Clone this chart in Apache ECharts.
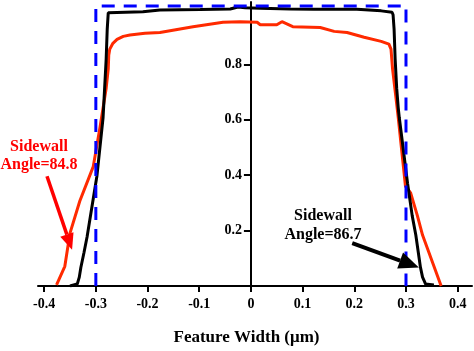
<!DOCTYPE html>
<html>
<head>
<meta charset="utf-8">
<script src="https://cdn.jsdelivr.net/npm/echarts@6/dist/echarts.min.js"></script>
<style>
html,body{margin:0;padding:0;background:#fff;}
#chart{width:474px;height:351px;}
</style>
</head>
<body>
<div id="chart"></div>
<script>
// ---- tick labels ----
const xTicks = [-0.4, -0.3, -0.2, -0.1, 0, 0.1, 0.2, 0.3, 0.4];
const yTicks = [0.2, 0.4, 0.6, 0.8];
const xAxisTitle = 'Feature Width (μm)';

// ---- designed (ideal) profile: black ----
const idealX = [-0.350, -0.336, -0.332, -0.329, -0.323, -0.317, -0.298, -0.286, -0.284, -0.280, -0.278, -0.276, -0.273, -0.209, -0.207, -0.176, -0.098, -0.040, -0.025, -0.011, 0.018, 0.076, 0.122, 0.205, 0.207, 0.252, 0.254, 0.273, 0.275, 0.277, 0.279, 0.282, 0.285, 0.287, 0.303, 0.312, 0.319, 0.328, 0.332, 0.338, 0.354];
const idealY = [0.000, 0.007, 0.032, 0.067, 0.120, 0.177, 0.396, 0.608, 0.678, 0.820, 0.926, 0.986, 0.990, 0.990, 0.996, 0.996, 0.998, 1.000, 1.007, 1.004, 1.002, 1.000, 0.999, 0.999, 0.993, 0.993, 0.989, 0.988, 0.979, 0.926, 0.820, 0.714, 0.643, 0.608, 0.371, 0.254, 0.184, 0.067, 0.032, 0.007, 0.004];

// ---- measured profile: red ----
const measX = [-0.376, -0.360, -0.350, -0.331, -0.305, -0.292, -0.280, -0.276, -0.275, -0.273, -0.267, -0.259, -0.247, -0.234, -0.205, -0.176, -0.112, -0.054, -0.021, 0.012, 0.018, 0.050, 0.060, 0.081, 0.134, 0.161, 0.186, 0.219, 0.252, 0.267, 0.271, 0.274, 0.280, 0.285, 0.295, 0.299, 0.309, 0.322, 0.332, 0.368];
const measY = [0.004, 0.071, 0.191, 0.307, 0.431, 0.572, 0.714, 0.784, 0.834, 0.855, 0.876, 0.890, 0.901, 0.906, 0.912, 0.915, 0.936, 0.952, 0.954, 0.952, 0.943, 0.943, 0.954, 0.936, 0.933, 0.919, 0.915, 0.898, 0.883, 0.873, 0.855, 0.784, 0.689, 0.608, 0.431, 0.360, 0.336, 0.254, 0.184, 0.000];

// ---- mask outline: blue dashed ----
const maskX = [-0.3, -0.3, 0.3, 0.3];
const maskY = [0, 1.011, 1.011, 0];

// ---- annotation arrows (data coordinates: from -> tip) ----
const redArrow = [[-0.3945, 0.396], [-0.346, 0.131]];
const blackArrow = [[0.196, 0.155], [0.325, 0.067]];

const pairs = (xs, ys) => xs.map((x, i) => [x, ys[i]]);
const FONT = '"Liberation Serif", "Times New Roman", serif';

const chart = echarts.init(document.getElementById('chart'), null, {renderer: 'canvas'});

const GRID_LEFT = 38;
const option = {
  animation: false,
  backgroundColor: '#ffffff',
  grid: {left: GRID_LEFT, right: 2, top: 2, bottom: 59, containLabel: false},
  xAxis: {
    type: 'value',
    min: -0.4119,
    max: 0.4277,
    splitLine: {show: false},
    axisLine: {onZero: true, lineStyle: {color: '#000', width: 2}},
    axisTick: {show: true, customValues: xTicks, length: 6, lineStyle: {color: '#000', width: 2}},
    axisLabel: {
      customValues: xTicks, margin: 11,
      color: '#000', fontFamily: FONT, fontWeight: 'bold', fontSize: 14,
      formatter: v => (Math.abs(v) < 1e-9 ? '0' : v.toFixed(1))
    },
    name: xAxisTitle,
    nameLocation: 'middle',
    nameGap: 43,
    nameTextStyle: {color: '#000', fontFamily: FONT, fontWeight: 'bold', fontSize: 17, padding: [0, 17, 0, 0]}
  },
  yAxis: {
    type: 'value',
    min: 0,
    max: 1.025,
    position: 'left',
    offset: 0,
    splitLine: {show: false},
    axisLine: {onZero: false, lineStyle: {color: '#000', width: 2}},
    axisTick: {show: true, customValues: yTicks, length: 7, lineStyle: {color: '#000', width: 2}},
    axisLabel: {
      customValues: yTicks, margin: 9,
      color: '#000', fontFamily: FONT, fontWeight: 'bold', fontSize: 14,
      formatter: v => v.toFixed(1)
    }
  },
  series: [
    {
      name: 'Measured', type: 'line', data: pairs(measX, measY),
      showSymbol: false, symbol: 'none', z: 2,
      lineStyle: {color: '#ff2a00', width: 3}
    },
    {
      name: 'Ideal', type: 'line', data: pairs(idealX, idealY),
      showSymbol: false, symbol: 'none', z: 3,
      lineStyle: {color: '#000000', width: 3}
    },
    {
      name: 'Mask', type: 'line', data: pairs(maskX, maskY),
      showSymbol: false, symbol: 'none', z: 4,
      lineStyle: {color: '#0000ff', width: 3, type: [13, 9]}
    }
  ]
};
chart.setOption(option);

// place the y axis through x = 0 (computed from the x scale)
const zeroPx = chart.convertToPixel({xAxisIndex: 0}, 0);
chart.setOption({yAxis: {offset: -(zeroPx - GRID_LEFT)}});

function arrowGraphics(arrow, color, width, headLen, headWidth) {
  const p0 = chart.convertToPixel({gridIndex: 0}, arrow[0]);
  const p1 = chart.convertToPixel({gridIndex: 0}, arrow[1]);
  const dx = p1[0] - p0[0], dy = p1[1] - p0[1];
  const L = Math.sqrt(dx * dx + dy * dy);
  const ux = dx / L, uy = dy / L;
  const bx = p1[0] - ux * headLen, by = p1[1] - uy * headLen;
  const nx = -uy, ny = ux;
  return [
    {type: 'line', shape: {x1: p0[0], y1: p0[1], x2: bx, y2: by},
      style: {stroke: color, lineWidth: width}, z: 10, silent: true},
    {type: 'polygon', shape: {points: [
      [p1[0], p1[1]],
      [bx + nx * headWidth / 2, by + ny * headWidth / 2],
      [bx - nx * headWidth / 2, by - ny * headWidth / 2]
    ]}, style: {fill: color}, z: 10, silent: true}
  ];
}

chart.setOption({
  graphic: [
    ...arrowGraphics(redArrow, '#ff0000', 3.5, 16, 14),
    ...arrowGraphics(blackArrow, '#000000', 4, 20, 17),
    {type: 'text', x: 39, y: 155.5, z: 11, silent: true,
      style: {text: 'Sidewall\nAngle=84.8', fill: '#ff0000', font: 'bold 16px ' + FONT,
        align: 'center', verticalAlign: 'middle', lineHeight: 18}},
    {type: 'text', x: 323, y: 225.5, z: 11, silent: true,
      style: {text: 'Sidewall\nAngle=86.7', fill: '#000000', font: 'bold 16px ' + FONT,
        align: 'center', verticalAlign: 'middle', lineHeight: 19}}
  ]
});
</script>
</body>
</html>
